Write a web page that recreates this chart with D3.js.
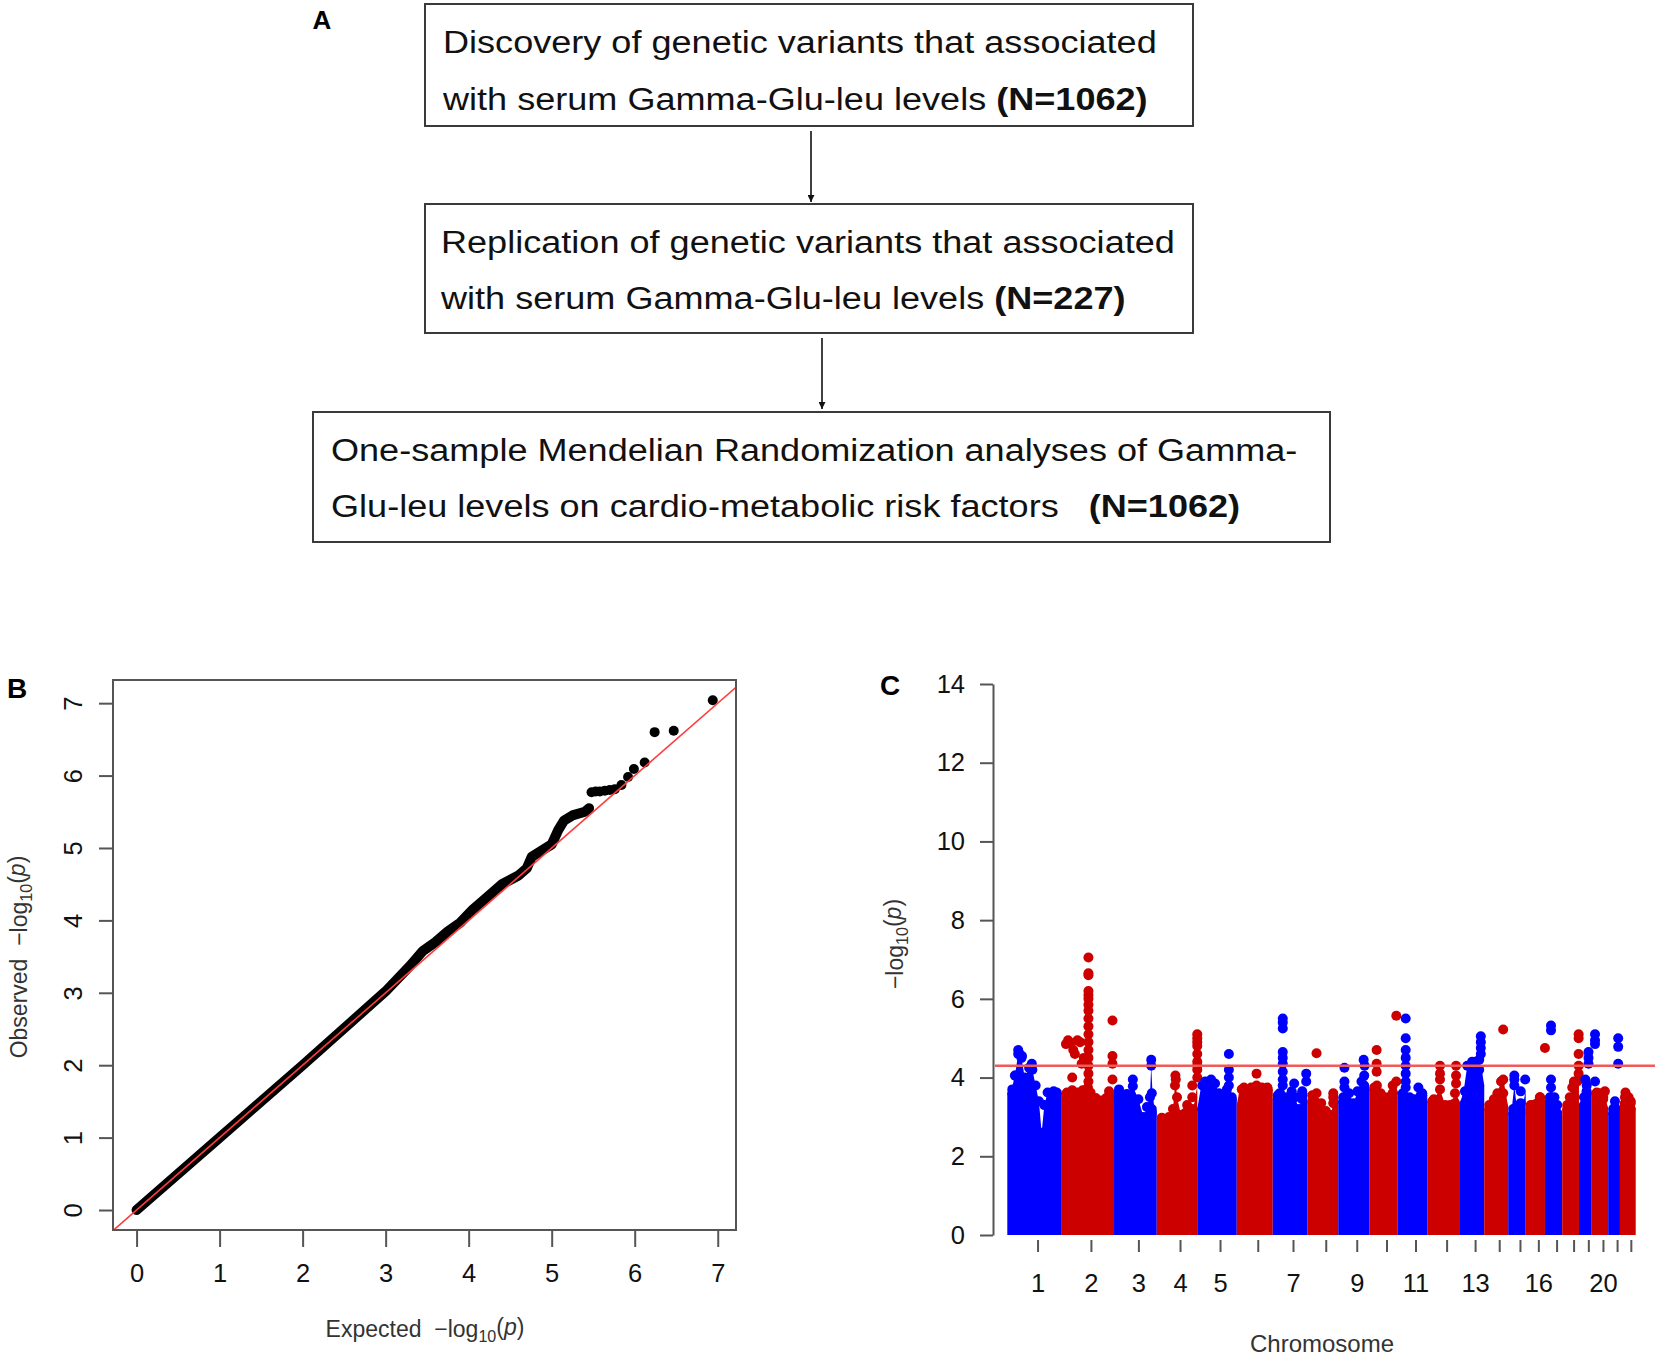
<!DOCTYPE html>
<html>
<head>
<meta charset="utf-8">
<script src="https://cdn.jsdelivr.net/npm/d3@7"></script>
<style>
  html, body { margin: 0; padding: 0; background: #fff; }
  svg { display: block; font-family: "Liberation Sans", Arial, sans-serif; }
  text { white-space: pre; }
</style>
</head>
<body>
<svg id="fig" width="1655" height="1360"></svg>
<script>
// ---------- panel A: flow chart text ----------
const stepText = [
  ['Discovery of genetic variants that associated', 'with serum Gamma-Glu-leu levels '],
  ['Replication of genetic variants that associated', 'with serum Gamma-Glu-leu levels '],
  ['One-sample Mendelian Randomization analyses of Gamma-', 'Glu-leu levels on cardio-metabolic risk factors   '],
];
const stepN = ['(N=1062)', '(N=227)', '(N=1062)'];

// ---------- panel B: QQ plot (expected vs observed -log10 p) ----------
// dense part of the trail
const qqTrailExp = [0, 1, 2, 3, 3.3, 3.45, 3.6, 3.75, 3.9, 4.05, 4.2, 4.4, 4.6, 4.7, 4.76, 4.9, 5.0, 5.08, 5.15, 5.25, 5.4, 5.45];
const qqTrailObs = [0, 1, 2, 3.02, 3.38, 3.58, 3.7, 3.85, 3.97, 4.15, 4.3, 4.5, 4.62, 4.72, 4.88, 4.98, 5.05, 5.25, 5.38, 5.45, 5.5, 5.55];
// separate top points
const qqTopExp = [5.48, 5.53, 5.58, 5.64, 5.7, 5.76, 5.84, 5.92, 5.99, 6.12, 6.24, 6.47, 6.94];
const qqTopObs = [5.77, 5.78, 5.78, 5.79, 5.8, 5.81, 5.87, 5.98, 6.09, 6.18, 6.6, 6.62, 7.04];
const qqTicks = [0, 1, 2, 3, 4, 5, 6, 7];

// ---------- panel C: Manhattan plot ----------
const chromosomes = d3.range(1, 23);
// relative plotted span of each chromosome
const chrSpan = [218, 209, 171, 162, 158, 144, 138, 124, 124, 114, 118, 131, 97, 96, 70, 77, 69, 67, 51, 66, 47, 63];
const chrLabelled = [1, 2, 3, 4, 5, 7, 9, 11, 13, 16, 20];
// upper envelope of the dense point cloud: [fraction along chromosome, -log10 p]
const chrTop = [
  [[0,3.6],[0.08,3.7],[0.14,4.05],[0.2,4.6],[0.26,4.5],[0.32,4.0],[0.4,4.25],[0.46,4.2],[0.52,3.8],[0.58,3.4],[0.63,2.6],[0.68,3.3],[0.74,3.62],[0.85,3.65],[1,3.62]],
  [[0,3.6],[0.1,3.62],[0.2,3.68],[0.3,3.62],[0.4,3.68],[0.5,3.75],[0.55,3.62],[0.65,3.48],[0.75,3.42],[0.85,3.48],[0.95,3.52],[1,3.65]],
  [[0,3.65],[0.06,3.7],[0.18,3.52],[0.3,3.58],[0.44,3.78],[0.57,3.45],[0.69,3.0],[0.77,3.25],[0.84,3.5],[0.87,4.3],[0.9,3.6],[0.96,3.1],[1,3.2]],
  [[0,2.95],[0.1,2.98],[0.3,3.0],[0.4,3.2],[0.45,3.8],[0.47,3.95],[0.5,3.5],[0.6,3.05],[0.7,3.1],[0.75,3.3],[0.8,3.1],[0.9,3.2],[0.95,3.5],[1,3.8]],
  [[0,3.2],[0.1,3.8],[0.2,3.9],[0.35,3.95],[0.45,3.85],[0.55,3.6],[0.65,3.5],[0.75,3.7],[0.8,3.8],[0.9,3.5],[1,3.45]],
  [[0,3.3],[0.08,3.7],[0.2,3.75],[0.4,3.75],[0.55,3.8],[0.7,3.75],[0.85,3.75],[1,3.7]],
  [[0,3.45],[0.1,3.55],[0.2,3.6],[0.29,3.8],[0.4,3.5],[0.55,3.65],[0.65,3.5],[0.75,3.2],[0.85,3.45],[0.95,3.65],[1,3.6]],
  [[0,3.4],[0.1,3.55],[0.3,3.6],[0.45,3.35],[0.6,3.15],[0.75,3.05],[0.85,3.35],[0.92,3.6],[1,3.5]],
  [[0,3.4],[0.1,3.5],[0.2,3.75],[0.35,3.6],[0.5,3.35],[0.62,3.65],[0.75,3.9],[0.85,4.05],[0.93,3.8],[1,3.7]],
  [[0,3.7],[0.15,3.75],[0.27,3.8],[0.4,3.6],[0.55,3.5],[0.7,3.5],[0.85,3.6],[0.95,3.8],[1,3.6]],
  [[0,3.5],[0.15,3.6],[0.27,3.75],[0.4,3.5],[0.55,3.45],[0.7,3.75],[0.85,3.6],[1,3.55]],
  [[0,3.4],[0.2,3.45],[0.39,3.7],[0.55,3.3],[0.7,3.3],[0.88,3.6],[1,3.35]],
  [[0,3.35],[0.15,3.65],[0.3,4.3],[0.5,4.4],[0.65,4.4],[0.8,4.45],[0.9,4.2],[1,3.8]],
  [[0,3.2],[0.2,3.3],[0.4,3.45],[0.55,3.6],[0.7,3.9],[0.8,3.95],[0.9,3.6],[1,3.25]],
  [[0,3.1],[0.2,3.2],[0.35,3.8],[0.5,3.2],[0.7,3.1],[0.85,3.35],[1,3.65]],
  [[0,3.2],[0.2,3.3],[0.4,3.3],[0.6,3.35],[0.8,3.5],[1,3.5]],
  [[0,3.4],[0.2,3.5],[0.35,3.75],[0.55,3.5],[0.75,3.3],[0.9,3.1],[1,3.0]],
  [[0,3.2],[0.25,3.3],[0.45,3.5],[0.6,3.75],[0.8,3.85],[1,3.9]],
  [[0,3.3],[0.3,3.5],[0.6,3.65],[0.8,3.8],[1,3.6]],
  [[0,3.6],[0.2,3.62],[0.5,3.6],[0.7,3.5],[0.85,3.45],[1,3.2]],
  [[0,3.1],[0.4,3.2],[0.7,3.25],[0.85,3.4],[1,3.2]],
  [[0,3.35],[0.2,3.5],[0.35,3.62],[0.55,3.5],[0.75,3.4],[0.9,3.35],[1,3.2]],
];
// single SNPs standing out above the cloud: [chromosome, fraction, -log10 p]
const chrPeaks = [
  [1,0.2,4.7],[1,0.22,4.62],[1,0.27,4.55],[1,0.45,4.35],[1,0.15,4.05],
  [2,0.08,4.85],[2,0.12,4.95],[2,0.18,4.88],[2,0.22,4.7],[2,0.25,4.6],[2,0.3,4.95],[2,0.35,4.9],[2,0.2,4.0],[2,0.38,4.35],[2,0.42,4.5],
  [2,0.51,7.05],[2,0.51,6.65],[2,0.51,6.6],[2,0.51,6.2],[2,0.51,6.1],[2,0.51,6.0],[2,0.51,5.85],[2,0.51,5.7],[2,0.51,5.5],[2,0.51,5.3],
  [2,0.51,5.1],[2,0.51,4.9],[2,0.51,4.7],[2,0.51,4.5],[2,0.51,4.3],[2,0.51,4.1],[2,0.51,3.9],
  [2,0.97,5.45],[2,0.97,4.55],[2,0.97,4.35],[2,0.97,3.95],
  [3,0.87,4.45],[3,0.44,3.95],
  [4,1.0,5.1],[4,1.0,5.0],[4,1.0,4.9],[4,1.0,4.8],[4,1.0,4.6],[4,1.0,4.4],[4,1.0,4.3],[4,1.0,4.2],[4,1.0,4.0],[4,0.46,4.05],
  [5,0.8,4.6],[5,0.8,4.2],[5,0.8,4.0],
  [6,0.55,4.1],
  [7,0.29,5.5],[7,0.29,5.4],[7,0.29,5.25],[7,0.29,4.65],[7,0.29,4.5],[7,0.29,4.35],[7,0.29,4.15],[7,0.29,3.95],[7,0.62,3.85],[7,0.97,4.1],[7,0.97,3.9],
  [8,0.3,4.62],
  [9,0.2,4.25],[9,0.2,3.9],[9,0.82,4.45],[9,0.85,4.3],
  [10,0.26,4.7],[10,0.26,4.35],[10,0.26,4.15],[10,0.95,5.57],[10,0.95,3.9],
  [11,0.27,5.5],[11,0.27,5.0],[11,0.27,4.7],[11,0.27,4.5],[11,0.27,4.3],[11,0.27,4.1],[11,0.27,3.9],
  [12,0.39,4.3],[12,0.39,4.1],[12,0.39,3.95],[12,0.88,4.3],[12,0.88,4.05],[12,0.88,3.85],
  [13,0.86,5.05],[13,0.86,4.9],[13,0.86,4.75],[13,0.86,4.6],
  [14,0.79,5.22],
  [15,0.35,4.05],[15,0.35,3.95],[15,0.97,3.95],
  [16,1.0,4.75],
  [17,0.35,5.32],[17,0.35,5.2],[17,0.35,3.95],
  [18,0.98,5.1],[18,0.98,5.0],[18,0.98,4.6],[18,0.98,4.3],[18,0.98,4.1],[18,0.9,3.9],
  [19,0.75,4.65],[19,0.75,4.5],[19,0.75,4.35],[19,0.5,3.95],[19,1.26,5.1],[19,1.26,4.95],[19,1.26,4.85],[19,1.26,3.9],
  [20,0.8,3.65],
  [21,0.85,5.0],[21,0.85,4.78],[21,0.85,4.35],
];
const suggestiveLine = 4.3;
const manhattanTicks = [0, 2, 4, 6, 8, 10, 12, 14];

const BLUE = '#0000ff';
const RED = '#cd0000';

const svg = d3.select('#fig');

// panel letters
svg.append('text').attr('x', 322).attr('y', 29).attr('text-anchor', 'middle')
  .attr('font-size', 26).attr('font-weight', 700).text('A');
svg.append('text').attr('x', 7).attr('y', 698).attr('font-size', 28).attr('font-weight', 700).text('B');
svg.append('text').attr('x', 880).attr('y', 695).attr('font-size', 28).attr('font-weight', 700).text('C');

// ================= A: flow chart =================
const boxes = [
  { x: 425, y: 4, w: 768, h: 122, tx: 443, lines: [53, 110] },
  { x: 425, y: 204, w: 768, h: 129, tx: 441, lines: [253, 309] },
  { x: 313, y: 412, w: 1017, h: 130, tx: 331, lines: [461, 517] },
];
const flow = svg.append('g');
const lineEls = [];
boxes.forEach((b, i) => {
  flow.append('rect').attr('x', b.x).attr('y', b.y).attr('width', b.w).attr('height', b.h)
    .attr('fill', '#fff').attr('stroke', '#3a3a3a').attr('stroke-width', 2);
  stepText[i].forEach((s, j) => {
    const t = flow.append('text').attr('font-size', 31).attr('fill', '#111')
      .attr('data-x', b.tx).attr('data-y', b.lines[j]);
    t.append('tspan').text(s);
    if (j === 1) t.append('tspan').attr('font-weight', 700).text(stepN[i]);
    lineEls.push(t);
  });
});
// the figure's lettering is slightly wide; stretch to the measured width of the first line
const sx = 714 / lineEls[0].node().getComputedTextLength();
lineEls.forEach((t) => {
  t.attr('transform', `translate(${t.attr('data-x')},${t.attr('data-y')}) scale(${sx},1)`);
});

const defs = svg.append('defs');
defs.append('marker').attr('id', 'arrow').attr('viewBox', '0 0 10 10')
  .attr('refX', 10).attr('refY', 5).attr('markerWidth', 7).attr('markerHeight', 7)
  .attr('markerUnits', 'userSpaceOnUse').attr('orient', 'auto')
  .append('path').attr('d', 'M0,0 L10,5 L0,10 z').attr('fill', '#111');
[[811, 131, 202], [822, 338, 409]].forEach(([x, y1, y2]) => {
  flow.append('line').attr('x1', x).attr('x2', x).attr('y1', y1).attr('y2', y2)
    .attr('stroke', '#111').attr('stroke-width', 1.6).attr('marker-end', 'url(#arrow)');
});

// ================= B: QQ plot =================
const xQ = d3.scaleLinear().domain([-0.284, 7.22]).range([113, 736]);
const yQ = d3.scaleLinear().domain([-0.276, 7.32]).range([1230, 680]);
const gB = svg.append('g');

defs.append('clipPath').attr('id', 'qqclip').append('rect')
  .attr('x', 113).attr('y', 680).attr('width', 623).attr('height', 550);

const trail = qqTrailExp.map((e, i) => [xQ(e), yQ(qqTrailObs[i])]);
gB.append('path').attr('d', d3.line()(trail)).attr('fill', 'none')
  .attr('stroke', '#000').attr('stroke-width', 10).attr('stroke-linecap', 'round').attr('stroke-linejoin', 'round');
gB.selectAll('circle.qq').data(qqTopExp).join('circle').attr('class', 'qq')
  .attr('cx', (d) => xQ(d)).attr('cy', (d, i) => yQ(qqTopObs[i])).attr('r', 5).attr('fill', '#000');
gB.append('line').attr('clip-path', 'url(#qqclip)')
  .attr('x1', xQ(-1)).attr('y1', yQ(-1)).attr('x2', xQ(8)).attr('y2', yQ(8))
  .attr('stroke', '#ff3c3c').attr('stroke-width', 1.6);

gB.append('rect').attr('x', 113).attr('y', 680).attr('width', 623).attr('height', 550)
  .attr('fill', 'none').attr('stroke', '#555').attr('stroke-width', 2);

const axB = gB.append('g').attr('transform', 'translate(0,1230)')
  .call(d3.axisBottom(xQ).tickValues(qqTicks).tickSize(17).tickPadding(17).tickFormat(d3.format('d')));
const ayB = gB.append('g').attr('transform', 'translate(113,0)')
  .call(d3.axisLeft(yQ).tickValues(qqTicks).tickSize(14).tickFormat(d3.format('d')));
[axB, ayB].forEach((a) => {
  a.select('.domain').remove();
  a.selectAll('.tick line').attr('stroke', '#555').attr('stroke-width', 2);
  a.selectAll('.tick text').attr('font-size', 25.5).attr('fill', '#111').attr('font-family', null);
});
ayB.selectAll('.tick text').attr('x', null).attr('dy', null).attr('text-anchor', 'middle')
  .attr('transform', 'translate(-31,0) rotate(-90)');

function logLabel(sel, prefix) {
  sel.append('tspan').text(prefix + '\u2212log');
  sel.append('tspan').attr('font-size', '0.7em').attr('dy', '0.3em').text('10');
  sel.append('tspan').attr('dy', '-0.3em').text('(');
  sel.append('tspan').attr('font-style', 'italic').text('p');
  sel.append('tspan').text(')');
}
gB.append('text').attr('x', 425).attr('y', 1337).attr('text-anchor', 'middle')
  .attr('font-size', 23).attr('fill', '#333').call(logLabel, 'Expected  ');
gB.append('text').attr('transform', 'translate(27,957) rotate(-90)').attr('text-anchor', 'middle')
  .attr('font-size', 23).attr('fill', '#333').call(logLabel, 'Observed  ');

// ================= C: Manhattan plot =================
const starts = [];
chrSpan.reduce((acc, s, i) => { starts[i] = acc; return acc + s; }, 0);
const total = d3.sum(chrSpan);
const xM = d3.scaleLinear().domain([0, total]).range([1007.3, 1635.7]);
const yM = d3.scaleLinear().domain([0, 14]).range([1235, 684]);
const gC = svg.append('g');
const R = 5;

chromosomes.forEach((c, i) => {
  const col = i % 2 === 0 ? BLUE : RED;
  const s = starts[i];
  const L = chrSpan[i];
  const px = (f) => xM(s + f * L);
  const pts = chrTop[i].map(([f, v]) => [px(f), yM(v)]);
  gC.append('path')
    .attr('d', d3.area().x((d) => d[0]).y0(yM(0)).y1((d) => d[1])(pts))
    .attr('fill', col);
  const left = px(0) + R;
  const right = px(1) - R;
  gC.selectAll(null).data(chrTop[i]).join('circle')
    .attr('cx', ([f]) => Math.max(left, Math.min(right, px(f))))
    .attr('cy', ([, v]) => yM(v)).attr('r', R).attr('fill', col);
  gC.selectAll(null).data(chrPeaks.filter((p) => p[0] === c)).join('circle')
    .attr('cx', ([, f]) => px(f)).attr('cy', ([, , v]) => yM(v)).attr('r', R).attr('fill', col);
});

gC.append('line').attr('x1', 995).attr('x2', 1655)
  .attr('y1', yM(suggestiveLine)).attr('y2', yM(suggestiveLine))
  .attr('stroke', '#f25a5a').attr('stroke-width', 2.4);

const ayC = gC.append('g').attr('transform', 'translate(993,0)')
  .call(d3.axisLeft(yM).tickValues(manhattanTicks).tickSize(13).tickSizeOuter(0).tickPadding(15));
ayC.select('.domain').attr('stroke', '#555').attr('stroke-width', 2);
ayC.selectAll('.tick line').attr('stroke', '#555').attr('stroke-width', 2);
ayC.selectAll('.tick text').attr('font-size', 25.5).attr('fill', '#111').attr('font-family', null);

// chromosome ticks (the figure's ticks sit a few pixels right of each block centre)
const tickShift = 3.5;
const chrTickX = chromosomes.map((c, i) => xM(starts[i] + chrSpan[i] / 2) + tickShift);
const axC = gC.append('g').attr('transform', 'translate(0,1240)');
axC.selectAll('line').data(chromosomes).join('line')
  .attr('x1', (d, i) => chrTickX[i]).attr('x2', (d, i) => chrTickX[i])
  .attr('y1', 0).attr('y2', 12).attr('stroke', '#555').attr('stroke-width', 2);
axC.selectAll('text').data(chromosomes.filter((c) => chrLabelled.includes(c))).join('text')
  .attr('x', (c) => chrTickX[c - 1]).attr('y', 52).attr('text-anchor', 'middle')
  .attr('font-size', 25.5).attr('fill', '#111').text((c) => c);

gC.append('text').attr('x', 1322).attr('y', 1352).attr('text-anchor', 'middle')
  .attr('font-size', 24).attr('fill', '#333').text('Chromosome');
gC.append('text').attr('transform', 'translate(903,944) rotate(-90)').attr('text-anchor', 'middle')
  .attr('font-size', 23).attr('fill', '#333').call(logLabel, '');
</script>
</body>
</html>
